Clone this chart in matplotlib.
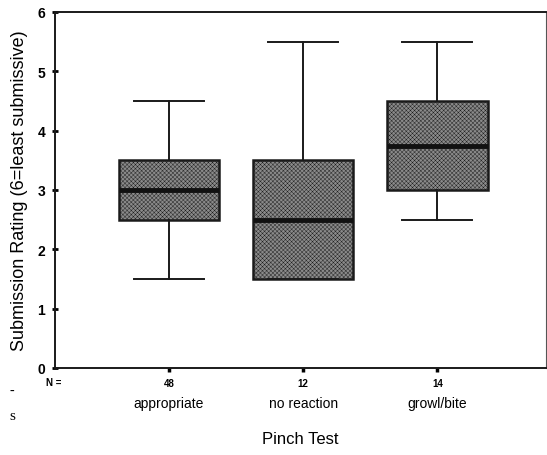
import matplotlib
matplotlib.use("Agg")
import matplotlib.pyplot as plt

plt.rcParams['font.family'] = ['Liberation Sans', 'DejaVu Sans']
plt.rcParams['hatch.linewidth'] = 0.3

categories = ["appropriate", "no reaction", "growl/bite"]
counts = [48, 12, 14]
whislo = [1.5, 1.5, 2.5]
q1 = [2.5, 1.5, 3.0]
med = [3.0, 2.5, 3.75]
q3 = [3.5, 3.5, 4.5]
whishi = [4.5, 5.5, 5.5]
yticks = [0, 1, 2, 3, 4, 5, 6]

fig = plt.figure(figsize=(5.47, 4.56), dpi=100)
ax = fig.add_axes([55/547, 1-369/456, (546-55)/547, (369-13)/456])

stats = []
for i in range(len(categories)):
    stats.append(dict(label=categories[i], whislo=whislo[i], q1=q1[i], med=med[i],
                      q3=q3[i], whishi=whishi[i], fliers=[]))

positions = [1, 2, 3]
bp = ax.bxp(stats, positions=positions, widths=0.75, patch_artist=True,
            showfliers=False, capwidths=0.52,
            boxprops=dict(facecolor='#8a8a8a', edgecolor='#1a1a1a', linewidth=1.8, hatch='xxxxxxxx'),
            medianprops=dict(color='#111111', linewidth=3.5),
            whiskerprops=dict(color='#1a1a1a', linewidth=1.4),
            capprops=dict(color='#1a1a1a', linewidth=1.4))

ax.set_xlim(0.15, 3.81)
ax.set_ylim(0, 6)
ax.set_yticks(yticks)
ax.set_yticklabels([str(t) for t in yticks], fontsize=10, fontweight='bold')
ax.tick_params(axis='y', direction='inout', length=4, width=2, pad=5)
ax.set_xticks(positions)
ax.set_xticklabels([])
ax.tick_params(axis='x', direction='out', length=3, width=2.5)
for s in ax.spines.values():
    s.set_linewidth(1.4)
    s.set_color('#1a1a1a')
ax.spines['right'].set_linewidth(0.8)
ax.spines['right'].set_color('#555555')

ax.set_ylabel("Submission Rating (6=least submissive)", fontsize=13, labelpad=7)

# N row and category labels
fig.text(54/547, 1-383/456, "N =", fontsize=7, fontweight='bold', ha='center', va='center')
for p, n, c in zip(positions, counts, categories):
    ax.annotate(str(n), xy=(p, 0), xycoords=('data', 'axes fraction'),
                xytext=(0, -10.5), textcoords='offset points',
                ha='center', va='center', fontsize=7, fontweight='bold')
    ax.annotate(c, xy=(p, 0), xycoords=('data', 'axes fraction'),
                xytext=(0, -25), textcoords='offset points',
                ha='center', va='center', fontsize=10)
fig.text((55+546)/2/547, 1-440/456, "Pinch Test", fontsize=12, ha='center', va='center')

# stray fragments of page text at left margin
fig.text(12/547, 1-391/456, "-", fontsize=10, family='Liberation Serif', ha='center', va='center')
fig.text(12/547, 1-417/456, "s", fontsize=11, family='Liberation Serif', ha='center', va='center')

fig.savefig("out.png", dpi=100)
